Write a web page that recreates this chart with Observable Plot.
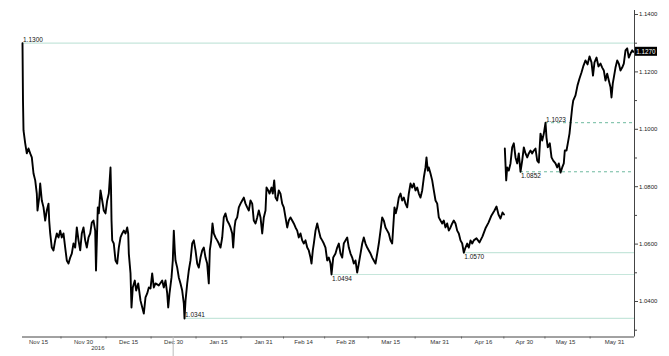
<!DOCTYPE html>
<html><head><meta charset="utf-8">
<script src="https://cdn.jsdelivr.net/npm/d3@7"></script>
<script src="https://cdn.jsdelivr.net/npm/@observablehq/plot@0.6"></script>
<style>body{margin:0;background:#fff} svg{display:block}</style>
</head><body><div id="chart"></div>
<script>
// trading-day index since 9 Nov 2016 (weekends removed)
const dayIndex = [
0,0.12,0.25,0.67,1.06,1.48,1.9,2.3,2.72,3.14,3.53,3.7,4.12,4.37,4.77,5.19,5.6,6.0,6.42,6.59,6.84,7.23,7.65,8.07,8.47,8.89,9.31,9.7,10.12,10.54,10.94,11.36,11.78,12.17,12.59,13.01,13.41,13.83,14.25,14.64,15.06,15.48,15.88,16.3,16.72,17.11,17.53,17.95,18.15,18.59,
18.84,19.26,19.68,20.07,20.49,20.91,21.31,21.73,21.85,21.98,22.15,22.54,22.96,23.38,23.78,24.2,24.62,25.01,25.43,25.85,26.1,26.25,26.67,26.91,27.23,27.73,28.07,28.57,29.14,29.95,30.37,30.79,31.19,31.6,32.02,32.42,32.84,33.65,34.49,34.89,35.31,35.73,35.98,36.3,36.79,37.11,37.36,37.6,
37.78,38.2,38.59,39.01,39.43,39.83,40.0,40.25,40.67,41.06,41.48,41.9,42.3,42.72,43.14,43.53,43.95,44.37,44.77,45.19,45.6,46.0,46.25,46.59,46.91,47.23,47.65,48.07,48.47,48.89,49.31,49.7,50.12,50.54,50.94,51.36,51.78,52.02,52.35,52.59,53.01,53.41,53.83,54.25,54.64,55.06,55.48,55.88,56.3,56.72,57.11,57.53,57.95,58.35,58.77,59.19,59.58,60.0,
60.25,60.67,60.99,61.48,61.8,62.15,62.47,62.89,63.28,63.7,64.12,64.52,64.94,65.36,65.75,66.17,66.59,66.99,67.41,67.83,68.22,68.64,69.06,69.46,69.88,70.3,70.69,71.11,71.36,71.68,71.93,72.35,72.77,73.16,73.58,74.0,74.4,74.81,75.23,75.63,76.05,76.3,76.72,77.28,77.7,78.1,78.52,78.94,79.33,79.75,80.17,80.57,80.99,81.41,81.8,82.22,82.64,83.04,83.46,83.88,84.27,84.69,85.11,85.51,85.93,86.35,86.74,87.16,87.58,87.98,88.4,88.81,89.21,89.63,90.05,90.44,90.86,91.28,91.53,91.85,92.17,92.52,92.91,93.33,93.75,94.15,94.57,94.99,95.38,95.8,96.22,96.62,97.04,97.46,97.85,98.27,98.69,99.09,99.51,99.75,100.07,100.32,100.74,101.16,101.56,101.98,102.4,102.79,103.21,103.63,104.02,104.44,104.86,105.26,105.68,106.1,106.49,106.91,107.33,107.73,108.15,108.57,108.96,109.38,109.8,110.2,110.62,111.04,111.43,112.1,112.84,113.58,114.32,115.06,115.8,116.54,117.04,117.53,118.02,118.52,118.89,
119.0,
119.09,119.43,119.68,120.07,120.49,120.91,121.31,121.73,122.15,122.54,122.96,123.38,123.78,124.2,124.62,125.01,125.43,125.85,126.25,126.67,127.09,127.48,127.9,128.32,128.72,129.14,129.38,129.7,130.2,130.62,131.04,131.6,132.02,132.42,132.84,133.26,133.65,133.9,134.32,134.64,135.06,135.31,135.73,135.98,136.54,137.04,137.53,138.02,138.52,139.01,139.51,140.0,140.49,140.86,141.23,141.73,142.22,142.72,143.14,143.53,143.95,144.37,144.77,145.19,145.43,145.75,146.0,146.42,146.84,147.23,147.65,148.07,148.47,148.89,149.31,149.7,150.12,150.54,150.86
];
const rate = [
1.1300,1.1100,1.0996,1.0951,1.0916,1.0933,1.0916,1.0902,1.0846,1.0822,1.0776,1.0717,1.0762,1.0811,1.0752,1.0728,1.0682,1.0717,1.0741,1.0682,1.0637,1.0588,1.0578,1.0613,1.0637,1.0623,1.0647,1.0623,1.0637,1.0588,1.0543,1.0532,1.0553,1.0567,1.0602,1.0588,1.0658,1.0613,1.0578,1.0637,1.0658,1.0613,1.0588,1.0623,1.0637,1.0675,1.0682,1.0647,1.0508,1.0728,
1.0707,1.0787,1.0752,1.0717,1.0707,1.0752,1.0776,1.0867,1.0797,1.0682,1.0613,1.0602,1.0543,1.0532,1.0588,1.0623,1.0637,1.0647,1.0637,1.0658,1.0637,1.0567,1.0498,1.0379,1.0449,1.0473,1.0438,1.0463,1.0403,1.0358,1.0414,1.0428,1.0449,1.0445,1.0498,1.0449,1.0463,1.0456,1.0473,1.0449,1.0473,1.0428,1.0379,1.0428,1.0484,1.0543,1.0647,1.0578,
1.0543,1.0518,1.0484,1.0463,1.0438,1.0393,1.0341,1.0403,1.0463,1.0508,1.0543,1.0602,1.0613,1.0578,1.0532,1.0518,1.0553,1.0578,1.0588,1.0553,1.0532,1.0463,1.0578,1.0613,1.0672,1.0637,1.0623,1.0613,1.0602,1.0588,1.0623,1.0693,1.0707,1.0682,1.0672,1.0658,1.0637,1.0588,1.0658,1.0682,1.0693,1.0728,1.0741,1.0752,1.0762,1.0741,1.0728,1.0717,1.0752,1.0741,1.0682,1.0672,1.0693,1.0717,1.0693,1.0637,1.0693,1.0717,
1.0797,1.0787,1.0776,1.0797,1.0776,1.0822,1.0762,1.0752,1.0787,1.0776,1.0741,1.0728,1.0693,1.0658,1.0682,1.0693,1.0682,1.0672,1.0658,1.0647,1.0623,1.0637,1.0613,1.0602,1.0613,1.0588,1.0578,1.0553,1.0532,1.0578,1.0602,1.0647,1.0672,1.0647,1.0623,1.0613,1.0602,1.0588,1.0543,1.0553,1.0532,1.0494,1.0553,1.0567,1.0588,1.0602,1.0567,1.0553,1.0602,1.0613,1.0623,1.0588,1.0567,1.0553,1.0532,1.0543,1.0501,1.0532,1.0567,1.0602,1.0623,1.0602,1.0588,1.0578,1.0567,1.0553,1.0543,1.0532,1.0567,1.0602,1.0647,1.0693,1.0682,1.0658,1.0647,1.0637,1.0613,1.0602,1.0658,1.0728,1.0707,1.0728,1.0762,1.0776,1.0752,1.0762,1.0741,1.0728,1.0776,1.0811,1.0797,1.0811,1.0787,1.0797,1.0776,1.0762,1.0787,1.0832,1.0867,1.0902,1.0856,1.0867,1.0846,1.0822,1.0787,1.0752,1.0741,1.0693,1.0682,1.0672,1.0682,1.0658,1.0672,1.0647,1.0658,1.0672,1.0682,1.0672,1.0647,1.0637,1.0613,1.0602,1.0570,1.0588,1.0602,1.0588,1.0613,1.0602,1.0613,1.0620,1.0606,1.0627,1.0655,1.0675,1.0700,1.0717,1.0731,1.0703,1.0689,1.0710,1.0703,
null,
1.0933,1.0822,1.0867,1.0856,1.0881,1.0937,1.0951,1.0902,1.0881,1.0916,1.0852,1.0891,1.0937,1.0916,1.0902,1.0916,1.0926,1.0916,1.0926,1.0933,1.0891,1.0884,1.0985,1.0961,1.0985,1.1023,1.0971,1.0937,1.0951,1.0902,1.0891,1.0881,1.0867,1.0881,1.0849,1.0867,1.0881,1.0926,1.0926,1.0951,1.0985,1.1020,1.1076,1.1100,1.1118,1.1153,1.1177,1.1198,1.1222,1.1240,1.1226,1.1254,1.1233,1.1187,1.1233,1.1250,1.1219,1.1229,1.1215,1.1205,1.1170,1.1194,1.1170,1.1146,1.1111,1.1160,1.1180,1.1215,1.1240,1.1229,1.1205,1.1215,1.1229,1.1275,1.1282,1.1250,1.1264,1.1275,1.1270
];
const xTickPos = [3.95, 15.06, 26.2, 37.3, 48.4, 59.5, 69.4, 79.8, 90.9, 103, 113.8, 123.9, 134.1, 146.2];
const xTickLabels = ["Nov 15","Nov 30","Dec 15","Dec 30","Jan 15","Jan 31","Feb 14","Feb 28","Mar 15","Mar 31","Apr 16","Apr 30","May 15","May 31"];
const yMajorTicks = [1.04, 1.06, 1.08, 1.10, 1.12, 1.14];
const yMinorTicks = [1.03, 1.05, 1.07, 1.09, 1.11, 1.13];
const levelValues = [1.1300, 1.1023, 1.0852, 1.0570, 1.0494, 1.0341];
const levelStart = [0, 129.14, 122.96, 108.96, 76.3, 40.0];
const levelDashed = [false, true, true, false, false, false];
const levelLabelAbove = [true, true, false, false, false, true];
const yearLabel = "2016";
const yearEnd = 37.2;
const lastRate = 1.1270;

const xMax = 151.11, yMin = 1.02763, yMax = 1.14139;

const series = dayIndex.map((d, i) => ({d, r: rate[i]}));
const levels = levelValues.map((v, i) => ({v, s: levelStart[i], dashed: levelDashed[i], above: levelLabelAbove[i]}));
const minorX = d3.pairs(xTickPos, (a, b) => (a + b) / 2);
const font = "'Liberation Sans', Arial, sans-serif";

const chart = Plot.plot({
  width: 669, height: 356,
  marginLeft: 22, marginRight: 35, marginTop: 10, marginBottom: 19.5,
  x: {domain: [0, xMax]},
  y: {domain: [yMin, yMax]},
  style: {fontFamily: font, background: "#fff", overflow: "visible"},
  marks: [
    Plot.ruleY(levels.filter(d => !d.dashed), {y: "v", x1: "s", x2: () => xMax, stroke: "#c6e6db", strokeWidth: 1.2}),
    Plot.ruleY(levels.filter(d => d.dashed), {y: "v", x1: "s", x2: () => xMax, stroke: "#6db99e", strokeWidth: 1, strokeDasharray: "3,3"}),
    Plot.line(series, {x: "d", y: "r", stroke: "#000", strokeWidth: 1.9, strokeLinejoin: "round"}),
    Plot.text(levels.filter(d => d.above), {x: "s", y: "v", text: d => d.v.toFixed(4), textAnchor: "start", lineAnchor: "middle", dy: -3.2, dx: 0.5, fontSize: 6.5, fill: "#111"}),
    Plot.text(levels.filter(d => !d.above), {x: "s", y: "v", text: d => d.v.toFixed(4), textAnchor: "start", lineAnchor: "middle", dy: 4.5, dx: 0.5, fontSize: 6.5, fill: "#111"}),
    Plot.ruleX([xMax], {stroke: "#444", strokeWidth: 1}),
    Plot.ruleY([yMin], {stroke: "#444", strokeWidth: 1}),
    Plot.axisY(yMajorTicks, {anchor: "right", tickSize: 3, tickPadding: 1.5, tickFormat: d => d.toFixed(4), fontSize: 6, fill: "#222", stroke: "#444", label: null}),
    Plot.axisY(yMinorTicks, {anchor: "right", tickSize: 2, tickFormat: () => "", stroke: "#444", label: null}),
    Plot.axisX(xTickPos, {anchor: "bottom", tickSize: 0, tickPadding: 2.5, tickFormat: d => xTickLabels[xTickPos.indexOf(d)], fontSize: 6, fill: "#333", label: null}),
    Plot.axisX(minorX, {anchor: "bottom", tickSize: 2, tickFormat: () => "", stroke: "#666", label: null}),
    Plot.ruleX([yearEnd], {y1: () => yMin, y2: () => yMin - 0.0068, stroke: "#bbb"}),
    Plot.text([yearLabel], {x: () => yearEnd / 2, y: () => yMin, text: d => d, dy: 11.5, fontSize: 6, fill: "#333"})
  ]
});

const svg = d3.select(chart);
const px = chart.scale("x").apply(xMax);
const py = chart.scale("y").apply(lastRate);
const tag = svg.append("g");
tag.append("rect").attr("x", px + 1).attr("y", py - 4.5).attr("width", 22).attr("height", 9).attr("fill", "#000");
tag.append("text").attr("x", px + 12).attr("y", py).attr("dy", "0.35em").attr("text-anchor", "middle")
  .attr("fill", "#fff").attr("stroke", "none")
  .attr("font-size", 6.3).attr("font-family", font).text(String(lastRate.toFixed(4)));

document.getElementById("chart").append(chart);
</script>
</body></html>
